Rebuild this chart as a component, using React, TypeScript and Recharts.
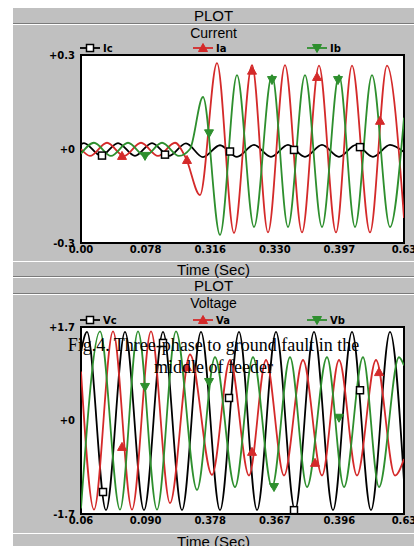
import { LineChart, Line, XAxis, YAxis, CartesianGrid, ReferenceArea } from "recharts";

// x ticks (seconds along the plot) and the labels printed under them
const xTicks = [0, 0.0646, 0.1292, 0.1938, 0.2584, 0.323];
const currentXLabels = ["0.00", "0.078", "0.316", "0.330", "0.397", "0.63"];
const voltageXLabels = ["0.06", "0.090", "0.378", "0.367", "0.396", "0.63"];

const currentYTicks = [-0.3, 0, 0.3];
const currentYLabels = ["-0.3", "+0", "+0.3"];
const voltageYTicks = [-1.7, 0, 1.7];
const voltageYLabels = ["-1.7", "+0", "+1.7"];

// Current, phase c (peaks / troughs)
const icTime = [0, 0.003, 0.02, 0.037, 0.054, 0.071, 0.088, 0.105, 0.122, 0.139, 0.156, 0.173, 0.19, 0.207, 0.224, 0.241, 0.258, 0.275, 0.292, 0.309, 0.323];
const icValue = [0.015, 0.019, -0.022, 0.019, -0.022, 0.019, -0.022, 0.018, -0.026, 0.012, -0.025, 0.013, -0.025, 0.013, -0.025, 0.013, -0.025, 0.013, -0.025, 0.013, -0.01];
const icMarkTime = [0.021, 0.084, 0.149, 0.213, 0.279];
const icMarkValue = [-0.021, -0.018, -0.008, -0.003, 0.006];

// Current, phase a
const iaTime = [0, 0.009, 0.026, 0.043, 0.06, 0.077, 0.094, 0.105, 0.119, 0.136, 0.153, 0.171, 0.187, 0.204, 0.221, 0.238, 0.255, 0.271, 0.289, 0.306, 0.323];
const iaValue = [0.0, -0.022, 0.02, -0.022, 0.02, -0.022, 0.02, -0.03, -0.147, 0.274, -0.268, 0.268, -0.266, 0.268, -0.266, 0.266, -0.266, 0.266, -0.266, 0.266, -0.22];
const iaMarkTime = [0.041, 0.106, 0.171, 0.236, 0.299];
const iaMarkValue = [-0.022, -0.035, 0.25, 0.23, 0.09];

// Current, phase b
const ibTime = [0, 0.013, 0.03, 0.047, 0.064, 0.081, 0.098, 0.109, 0.122, 0.139, 0.156, 0.173, 0.191, 0.207, 0.224, 0.241, 0.258, 0.274, 0.291, 0.309, 0.323];
const ibValue = [-0.015, 0.02, -0.022, 0.02, -0.022, 0.02, -0.022, 0.0, 0.166, -0.274, 0.236, -0.249, 0.236, -0.249, 0.236, -0.249, 0.236, -0.249, 0.236, -0.249, 0.1];
const ibMarkTime = [0.064, 0.128, 0.191, 0.257];
const ibMarkValue = [-0.022, 0.05, 0.22, 0.22];

// Voltage, phase c
const vcTime = [0, 0.006, 0.025, 0.044, 0.063, 0.082, 0.101, 0.12, 0.139, 0.158, 0.176, 0.195, 0.214, 0.233, 0.252, 0.271, 0.29, 0.309, 0.323];
const vcValue = [1.25, 1.61, -1.63, 1.61, -1.63, 1.61, -1.63, 1.61, -1.63, 1.61, -1.63, 1.61, -1.63, 1.61, -1.63, 1.61, -1.63, 1.61, -1.1];
const vcMarkTime = [0.022, 0.082, 0.148, 0.213, 0.279];
const vcMarkValue = [-1.3, 1.41, 0.41, -1.63, 0.55];

// Voltage, phase a
const vaTime = [0, 0.013, 0.032, 0.051, 0.07, 0.089, 0.109, 0.131, 0.149, 0.168, 0.185, 0.203, 0.222, 0.241, 0.258, 0.276, 0.295, 0.314, 0.323];
const vaValue = [0.89, -1.62, 1.62, -1.62, 1.62, -1.5, 1.2, -0.99, 1.1, -1.0, 1.1, -1.0, 1.1, -1.0, 1.1, -1.0, 1.1, -1.0, -0.7];
const vaMarkTime = [0.041, 0.106, 0.171, 0.234, 0.298];
const vaMarkValue = [-0.48, 0.97, -0.57, -0.77, 0.88];

// Voltage, phase b
const vbTime = [0, 0.019, 0.039, 0.057, 0.076, 0.095, 0.116, 0.134, 0.154, 0.172, 0.191, 0.209, 0.226, 0.246, 0.263, 0.282, 0.298, 0.318, 0.323];
const vbValue = [-1.6, 1.62, -1.62, 1.62, -1.62, 1.62, -1.26, 1.15, -1.21, 1.15, -1.21, 1.15, -1.21, 1.15, -1.21, 1.15, -1.21, 1.15, 1.0];
const vbMarkTime = [0.064, 0.128, 0.193, 0.258];
const vbMarkValue = [0.61, 0.7, -1.21, 0.05];

const GRAY = "#c0c0c0";
const RED = "#d42a2a";
const GREEN = "#2e8f2e";
const BLACK = "#000000";
const tickFont = { fill: "#000", fontSize: 10, fontWeight: 700, fontFamily: "DejaVu Sans" };

type Shape = "square" | "up" | "down";

type Series = {
  name: string;
  color: string;
  shape: Shape;
  time: number[];
  value: number[];
  markTime: number[];
  markValue: number[];
};

const toPoints = (t: number[], v: number[]) => t.map((x, i) => ({ t: x, v: v[i] }));

function MarkerGlyph({ cx, cy, shape, color }: { cx: number; cy: number; shape: Shape; color: string }) {
  if (shape === "square") {
    return <rect x={cx - 3.5} y={cy - 3.5} width={7} height={7} fill="#fff" stroke={color} strokeWidth={1.5} />;
  }
  if (shape === "up") {
    return (
      <polygon
        points={`${cx},${cy - 4.5} ${cx + 4.5},${cy + 3.5} ${cx - 4.5},${cy + 3.5}`}
        fill={color}
        stroke={color}
        strokeWidth={1}
      />
    );
  }
  return (
    <polygon
      points={`${cx - 4.5},${cy - 3.5} ${cx + 4.5},${cy - 3.5} ${cx},${cy + 4.5}`}
      fill={color}
      stroke={color}
      strokeWidth={1}
    />
  );
}

const currentSeries: Series[] = [
  { name: "Ic", color: BLACK, shape: "square", time: icTime, value: icValue, markTime: icMarkTime, markValue: icMarkValue },
  { name: "Ia", color: RED, shape: "up", time: iaTime, value: iaValue, markTime: iaMarkTime, markValue: iaMarkValue },
  { name: "Ib", color: GREEN, shape: "down", time: ibTime, value: ibValue, markTime: ibMarkTime, markValue: ibMarkValue }
];

const voltageSeries: Series[] = [
  { name: "Vc", color: BLACK, shape: "square", time: vcTime, value: vcValue, markTime: vcMarkTime, markValue: vcMarkValue },
  { name: "Va", color: RED, shape: "up", time: vaTime, value: vaValue, markTime: vaMarkTime, markValue: vaMarkValue },
  { name: "Vb", color: GREEN, shape: "down", time: vbTime, value: vbValue, markTime: vbMarkTime, markValue: vbMarkValue }
];

const legendLeft = [67, 180, 294];

function Bar({ top, height, text }: { top: number; height: number; text: string }) {
  return (
    <div
      style={{
        position: "absolute",
        left: 13,
        top,
        width: 401,
        height,
        background: GRAY,
        borderBottom: "1px solid #7a7a7a",
        boxSizing: "border-box",
        textAlign: "center",
        font: "15px 'Liberation Sans', Arial, sans-serif",
        lineHeight: `${height}px`,
        color: "#000"
      }}
    >
      {text}
    </div>
  );
}

type PanelProps = {
  top: number;
  height: number;
  plotTop: number;
  plotBottom: number;
  title: string;
  series: Series[];
  yDomain: [number, number];
  yTicks: number[];
  yLabels: string[];
  xLabels: string[];
};

function Panel({ top, height, plotTop, plotBottom, title, series, yDomain, yTicks, yLabels, xLabels }: PanelProps) {
  return (
    <div style={{ position: "absolute", left: 13, top, width: 401, height, background: GRAY }}>
      <div
        style={{
          position: "absolute",
          left: 0,
          top: 1,
          width: 401,
          textAlign: "center",
          font: "14px 'Liberation Sans', Arial, sans-serif",
          lineHeight: "14px"
        }}
      >
        {title}
      </div>
      {series.map((s, i) => (
        <div
          key={s.name}
          style={{ position: "absolute", left: legendLeft[i], top: plotTop - 12, display: "flex", alignItems: "center", height: 10 }}
        >
          <svg width={20} height={10}>
            <line x1={0} y1={5} x2={20} y2={5} stroke={s.color} strokeWidth={1.8} />
            <MarkerGlyph cx={10} cy={5} shape={s.shape} color={s.color} />
          </svg>
          <span style={{ fontSize: 10, fontWeight: 700, fontFamily: "DejaVu Sans", marginLeft: 3 }}>{s.name}</span>
        </div>
      ))}
      <LineChart
        width={401}
        height={height}
        margin={{ top: plotTop, right: 10, bottom: height - plotBottom - 14, left: 28 }}
      >
        <CartesianGrid fill="#ffffff" stroke="none" />
        <XAxis
          dataKey="t"
          type="number"
          domain={[0, 0.323]}
          ticks={xTicks}
          interval={0}
          tickFormatter={(v: number) => xLabels[xTicks.indexOf(v)] ?? ""}
          tick={tickFont}
          tickLine={false}
          axisLine={false}
          tickSize={2}
          tickMargin={1}
          height={14}
          allowDataOverflow
        />
        <YAxis
          type="number"
          domain={yDomain}
          ticks={yTicks}
          interval={0}
          tickFormatter={(v: number) => yLabels[yTicks.indexOf(v)] ?? ""}
          tick={tickFont}
          tickLine={false}
          axisLine={false}
          tickSize={4}
          tickMargin={2}
          width={40}
          allowDataOverflow
        />
        {series.map((s) => (
          <Line
            key={s.name}
            data={toPoints(s.time, s.value)}
            dataKey="v"
            type="monotone"
            stroke={s.color}
            strokeWidth={1.8}
            dot={false}
            isAnimationActive={false}
          />
        ))}
        {series.map((s) => (
          <Line
            key={s.name + "-mark"}
            data={toPoints(s.markTime, s.markValue)}
            dataKey="v"
            stroke="none"
            strokeWidth={0}
            isAnimationActive={false}
            dot={(p: any) =>
              p.cx == null ? <g key={p.index} /> : (
                <g key={p.index}>
                  <MarkerGlyph cx={p.cx} cy={p.cy} shape={s.shape} color={s.color} />
                </g>
              )
            }
          />
        ))}
        <ReferenceArea
          x1={0}
          x2={0.323}
          y1={yDomain[0]}
          y2={yDomain[1]}
          fill="none"
          stroke="#000"
          strokeWidth={2}
          ifOverflow="visible"
        />
      </LineChart>
    </div>
  );
}

export default function App() {
  return (
    <div style={{ position: "absolute", left: 0, top: 0, width: 414, height: 546, background: "#fff", overflow: "hidden" }}>
      <Bar top={8} height={16} text="PLOT" />
      <Panel
        top={25}
        height={236}
        plotTop={30}
        plotBottom={218}
        title="Current"
        series={currentSeries}
        yDomain={[-0.3, 0.3]}
        yTicks={currentYTicks}
        yLabels={currentYLabels}
        xLabels={currentXLabels}
      />
      <Bar top={262} height={15} text="Time (Sec)" />
      <Bar top={278} height={16} text="PLOT" />
      <Panel
        top={295}
        height={238}
        plotTop={32}
        plotBottom={219}
        title="Voltage"
        series={voltageSeries}
        yDomain={[-1.7, 1.7]}
        yTicks={voltageYTicks}
        yLabels={voltageYLabels}
        xLabels={voltageXLabels}
      />
      <Bar top={534} height={15} text="Time (Sec)" />
      <div
        style={{
          position: "absolute",
          left: 0,
          top: 334,
          width: 427,
          textAlign: "center",
          font: "18px 'Liberation Serif', 'Times New Roman', serif",
          lineHeight: "22px",
          color: "#000"
        }}
      >
        Fig.4. Three-phase to ground fault in the
        <br />
        middle of feeder
      </div>
    </div>
  );
}
